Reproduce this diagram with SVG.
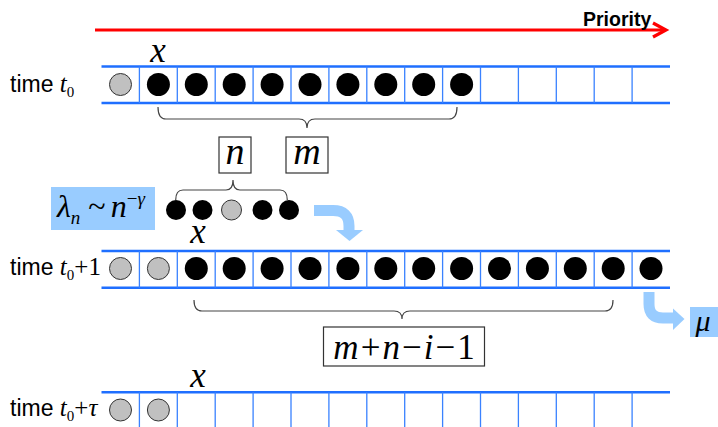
<svg xmlns="http://www.w3.org/2000/svg" width="718" height="427" viewBox="0 0 718 427">
<defs>
<style>
.rail{stroke:#1f6fff;stroke-width:2.4;fill:none}
.div{stroke:#3a82ff;stroke-width:1.3;fill:none}
.blk{fill:#000}
.gry{fill:#c0c0c0;stroke:#333;stroke-width:1}
.brace{fill:none;stroke:#444;stroke-width:1.2}
.box{fill:#fff;stroke:#333;stroke-width:1.2}
.lbl{font-family:'Liberation Sans',Arial,sans-serif;font-size:23px;fill:#000}
.math{font-family:'Liberation Serif','DejaVu Serif',serif;font-style:italic;fill:#000}
.up{font-style:normal}
.blue{fill:#99ccff}
.bend{fill:none;stroke:#99ccff;stroke-width:11}
</style>
</defs>
<rect width="718" height="427" fill="#fff"/>

<g id="priority">
<line x1="95" y1="30" x2="664" y2="30" stroke="#ff0000" stroke-width="3.2"/>
<polyline points="653,23 666,30 653,37" fill="none" stroke="#ff0000" stroke-width="3.2"/>
<text x="583" y="26" font-family="'Liberation Sans',Arial,sans-serif" font-weight="bold" font-size="19.5">Priority</text>
</g>

<g id="row1">
<text class="lbl" x="10" y="92">time <tspan class="math" font-size="25">t</tspan><tspan class="math up" font-size="15" dy="5">0</tspan></text>
<text class="math" x="158" y="62" font-size="35" text-anchor="middle">x</text>
<line class="rail" x1="101.5" y1="66.5" x2="670" y2="66.5"/>
<line class="rail" x1="101.5" y1="103" x2="670" y2="103"/>
<path class="div" d="M139.4,66.5V103M177.3,66.5V103M215.2,66.5V103M253.1,66.5V103M291,66.5V103M328.9,66.5V103M366.8,66.5V103M404.7,66.5V103M442.6,66.5V103M480.5,66.5V103M518.4,66.5V103M556.3,66.5V103M594.2,66.5V103M632.1,66.5V103"/>
<circle class="gry" cx="120.5" cy="84.5" r="11"/>
<circle class="blk" cx="158.4" cy="84.5" r="11.5"/>
<circle class="blk" cx="196.3" cy="84.5" r="11.5"/>
<circle class="blk" cx="234.2" cy="84.5" r="11.5"/>
<circle class="blk" cx="272.1" cy="84.5" r="11.5"/>
<circle class="blk" cx="310" cy="84.5" r="11.5"/>
<circle class="blk" cx="347.9" cy="84.5" r="11.5"/>
<circle class="blk" cx="385.8" cy="84.5" r="11.5"/>
<circle class="blk" cx="423.7" cy="84.5" r="11.5"/>
<circle class="blk" cx="461.6" cy="84.5" r="11.5"/>
</g>

<g id="n-box">
<rect class="box" x="219" y="137" width="32" height="36"/>
<text class="math" x="235" y="163.5" font-size="38" text-anchor="middle">n</text>
</g>
<g id="m-box">
<rect class="box" x="286" y="137" width="42" height="36"/>
<text class="math" x="307" y="163.5" font-size="38" text-anchor="middle">m</text>
</g>

<g id="lambda">
<rect class="blue" x="51" y="187" width="104" height="43"/>
<text class="math" x="57" y="217" font-size="32">λ<tspan font-size="19" dy="7">n</tspan><tspan class="up" dy="-7" dx="8">~</tspan><tspan dx="5">n</tspan><tspan class="up" font-size="19" dy="-12">−</tspan><tspan font-size="19">γ</tspan></text>
</g>

<g id="arrivals">
<circle class="blk" cx="176" cy="210" r="10"/>
<circle class="blk" cx="202.5" cy="210" r="10"/>
<circle class="gry" cx="231.5" cy="210" r="10"/>
<circle class="blk" cx="262.5" cy="210" r="10"/>
<circle class="blk" cx="289" cy="210" r="10"/>
</g>

<g id="row2">
<text class="lbl" x="10" y="274.5">time <tspan class="math" font-size="25">t</tspan><tspan class="math up" font-size="15" dy="5">0</tspan><tspan class="math up" font-size="25" dy="-5">+1</tspan></text>
<text class="math" x="198" y="243" font-size="35" text-anchor="middle">x</text>
<line class="rail" x1="101.5" y1="251" x2="670" y2="251"/>
<line class="rail" x1="101.5" y1="287.7" x2="670" y2="287.7"/>
<path class="div" d="M139.4,251V287.7M177.3,251V287.7M215.2,251V287.7M253.1,251V287.7M291,251V287.7M328.9,251V287.7M366.8,251V287.7M404.7,251V287.7M442.6,251V287.7M480.5,251V287.7M518.4,251V287.7M556.3,251V287.7M594.2,251V287.7M632.1,251V287.7"/>
<circle class="gry" cx="120.5" cy="268.5" r="11"/>
<circle class="gry" cx="158.4" cy="268.5" r="11"/>
<circle class="blk" cx="196.3" cy="268.5" r="11.5"/>
<circle class="blk" cx="234.2" cy="268.5" r="11.5"/>
<circle class="blk" cx="272.1" cy="268.5" r="11.5"/>
<circle class="blk" cx="310" cy="268.5" r="11.5"/>
<circle class="blk" cx="347.9" cy="268.5" r="11.5"/>
<circle class="blk" cx="385.8" cy="268.5" r="11.5"/>
<circle class="blk" cx="423.7" cy="268.5" r="11.5"/>
<circle class="blk" cx="461.6" cy="268.5" r="11.5"/>
<circle class="blk" cx="499.5" cy="268.5" r="11.5"/>
<circle class="blk" cx="537.4" cy="268.5" r="11.5"/>
<circle class="blk" cx="575.3" cy="268.5" r="11.5"/>
<circle class="blk" cx="613.2" cy="268.5" r="11.5"/>
<circle class="blk" cx="651" cy="268.5" r="11.5"/>
</g>

<g id="sum-box">
<rect class="box" x="323.5" y="327" width="161" height="39"/>
<text class="math" x="404" y="359" font-size="35" text-anchor="middle">m<tspan class="up" dx="2">+</tspan><tspan dx="2">n</tspan><tspan class="up" dx="2">−</tspan><tspan dx="2">i</tspan><tspan class="up" dx="2">−</tspan><tspan class="up" dx="2">1</tspan></text>
</g>

<g id="mu">
<rect class="blue" x="690" y="307" width="28" height="30"/>
<text class="math" x="703" y="331" font-size="30" text-anchor="middle">μ</text>
</g>

<g id="row3">
<text class="lbl" x="10" y="416">time <tspan class="math" font-size="25">t</tspan><tspan class="math up" font-size="15" dy="5">0</tspan><tspan class="math up" font-size="25" dy="-5">+</tspan><tspan class="math" font-size="25">τ</tspan></text>
<text class="math" x="198" y="386.5" font-size="35" text-anchor="middle">x</text>
<line class="rail" x1="101.5" y1="392.3" x2="670" y2="392.3"/>
<path class="div" d="M139.4,392.3V427M177.3,392.3V427M215.2,392.3V427M253.1,392.3V427M291,392.3V427M328.9,392.3V427M366.8,392.3V427M404.7,392.3V427M442.6,392.3V427M480.5,392.3V427M518.4,392.3V427M556.3,392.3V427M594.2,392.3V427M632.1,392.3V427"/>
<circle class="gry" cx="120.5" cy="410" r="11"/>
<circle class="gry" cx="158.4" cy="410" r="11"/>
</g>

<g id="connectors">
<path class="brace" d="M158,107 Q158,119 166,119 L299,119 Q307,119 307,128 Q307,119 315,119 L449,119 Q457,119 457,107"/>
<path class="brace" d="M175.7,200 Q175.7,190 183,190 L226,190 Q233,190 233,180 Q233,190 240,190 L280,190 Q287.3,190 287.3,200"/>
<path class="brace" d="M194,300 Q194,311 202,311 L394,311 Q402,311 402,319 Q402,311 410,311 L605,311 Q613,311 613,300"/>
<path class="bend" d="M314,210.5 L333,210.5 Q349,210.5 349,226 L349,231"/>
<polygon class="blue" points="336,230 363,230 349.5,241"/>
<path class="bend" d="M649,292 L649,304 Q649,318 663,318 L674,318"/>
<polygon class="blue" points="673,308.5 673,330 684.5,319"/>
</g>
</svg>
